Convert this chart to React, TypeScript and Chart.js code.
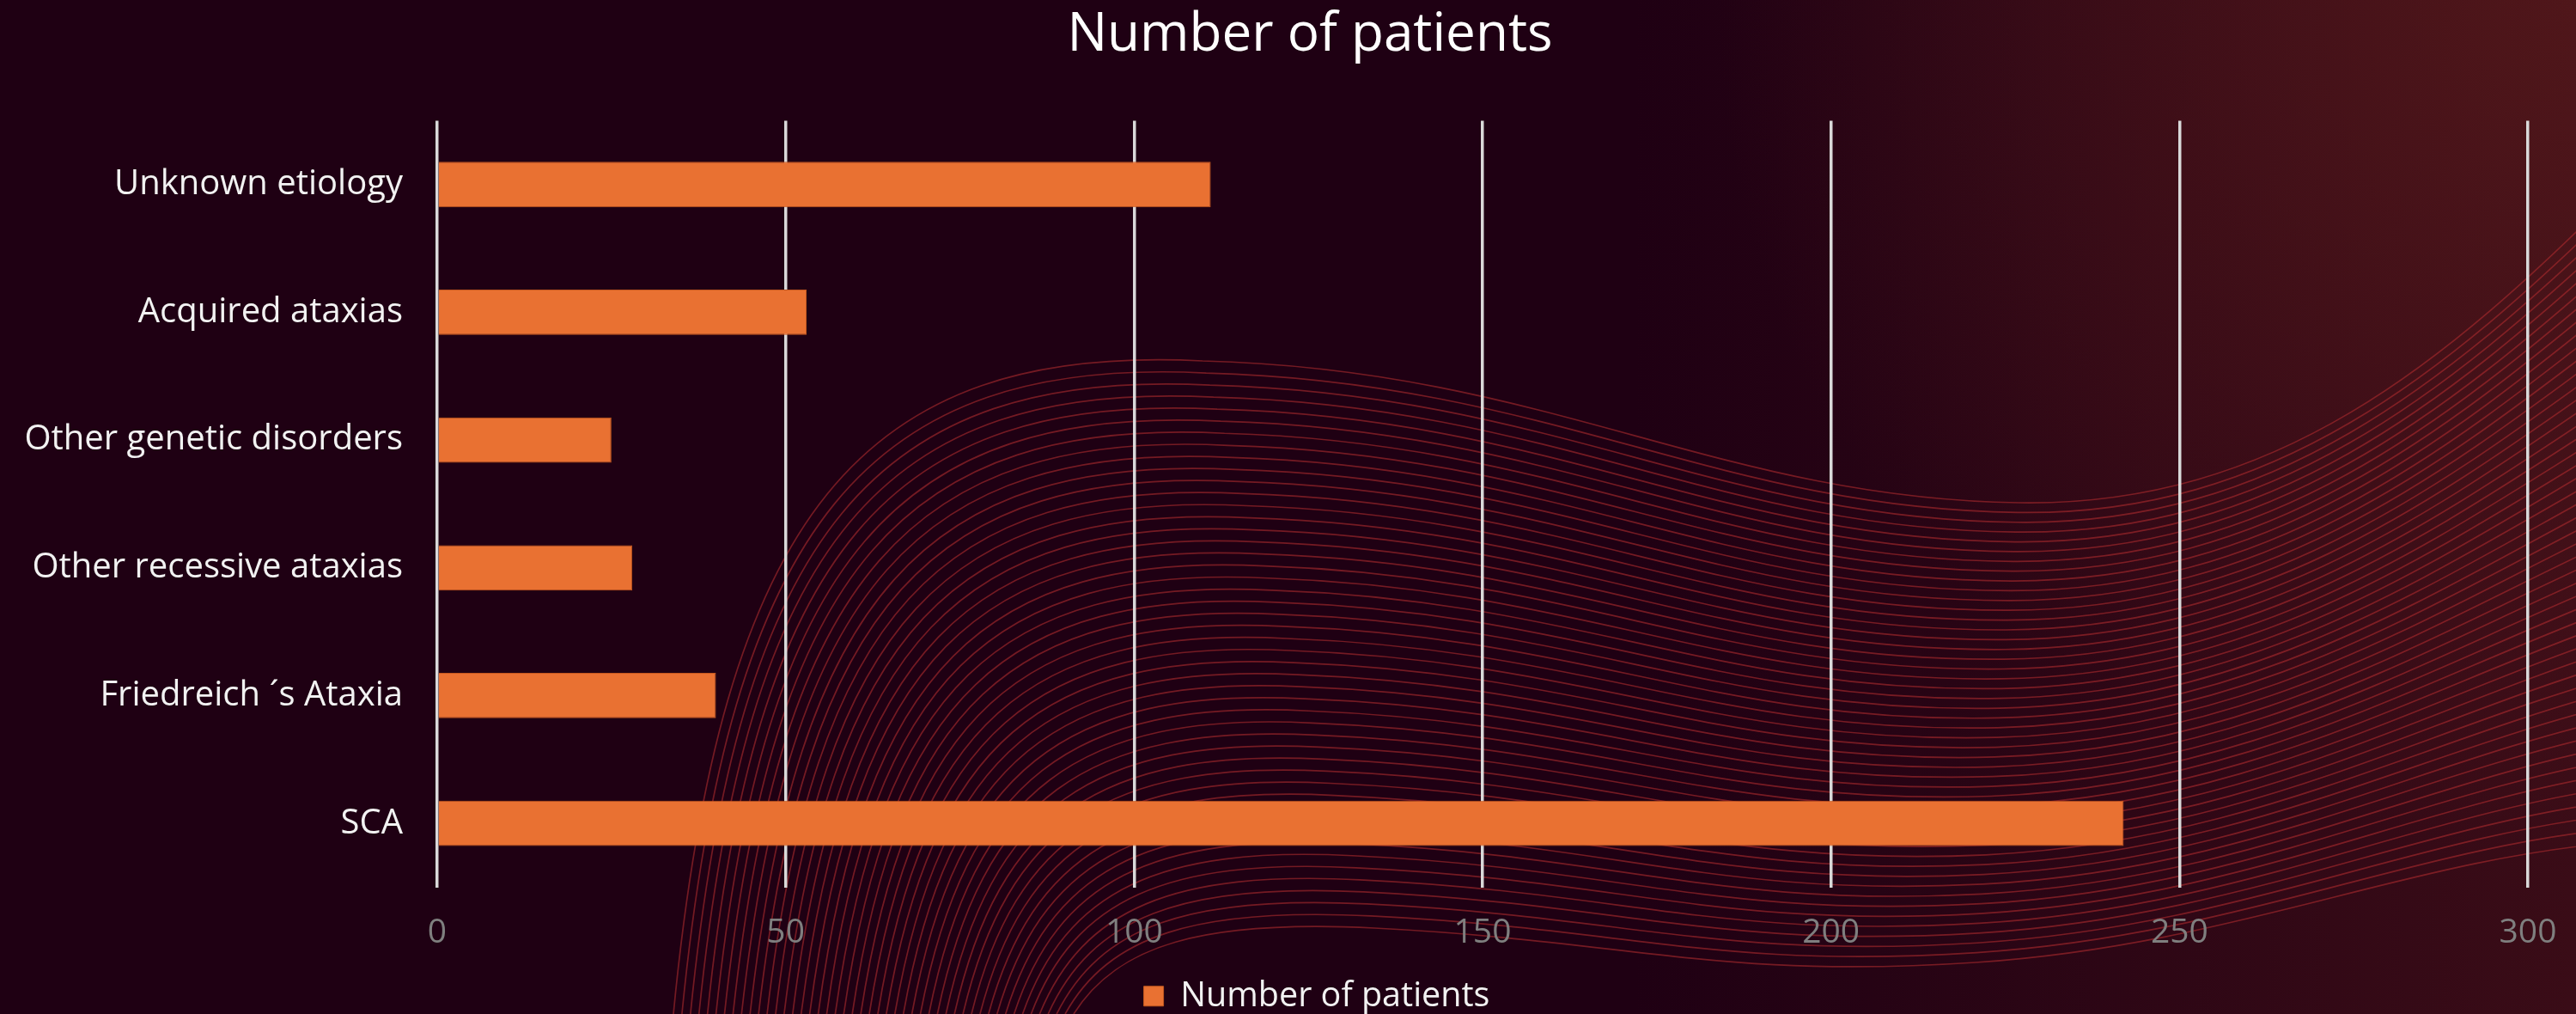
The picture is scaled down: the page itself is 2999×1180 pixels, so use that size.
import React, { useEffect, useRef } from 'react';
import { Chart, registerables } from 'chart.js';

Chart.register(...registerables);

const categories = [
  'Unknown etiology',
  'Acquired ataxias',
  'Other genetic disorders',
  'Other recessive ataxias',
  'Friedreich ´s Ataxia',
  'SCA',
];
const patients = [111, 53, 25, 28, 40, 242];
const seriesName = 'Number of patients';
const chartTitle = 'Number of patients';
const xMin = 0;
const xMax = 300;
const xStep = 50;

const FONT = "'Open Sans', 'Liberation Sans', sans-serif";
const CANVAS_W = 2999;
const CANVAS_H = 1180;

type Pt = [number, number];
// decorative background wave family (outer and inner guide curves)
const outerWave: Pt[] = [
  [784, 1180], [840, 600], [1000, 400], [1400, 420],
  [1800, 430], [2000, 580], [2350, 585],
  [2650, 590], [2850, 420], [3050, 220],
];
const innerWave: Pt[] = [
  [1250, 1180], [1300, 1100], [1400, 1070], [1600, 1080],
  [1900, 1095], [2000, 1140], [2300, 1120],
  [2600, 1100], [2800, 1000], [3050, 980],
];
const waveCount = 48;

const backgroundPlugin = {
  id: 'bgDecor',
  beforeDraw(chart: any) {
    const { ctx, width, height } = chart;
    ctx.save();
    ctx.fillStyle = '#1f0013';
    ctx.fillRect(0, 0, width, height);

    const lg = ctx.createLinearGradient(1900, 0, 3000, 0);
    lg.addColorStop(0, 'rgba(80,22,26,0)');
    lg.addColorStop(1, 'rgba(80,22,26,0.55)');
    ctx.fillStyle = lg;
    ctx.fillRect(0, 0, width, height);

    const rg = ctx.createRadialGradient(3000, 0, 0, 3000, 0, 1000);
    rg.addColorStop(0, 'rgba(85,25,27,0.8)');
    rg.addColorStop(1, 'rgba(85,25,27,0)');
    ctx.fillStyle = rg;
    ctx.fillRect(0, 0, width, height);

    ctx.strokeStyle = 'rgba(170,42,45,0.62)';
    ctx.lineWidth = 1.7;
    for (let i = 0; i < waveCount; i++) {
      const t = i / (waveCount - 1);
      const p = outerWave.map((o, k) => [
        o[0] + (innerWave[k][0] - o[0]) * t,
        o[1] + (innerWave[k][1] - o[1]) * t,
      ]);
      ctx.beginPath();
      ctx.moveTo(p[0][0], p[0][1]);
      for (let s = 1; s + 2 < p.length; s += 3) {
        ctx.bezierCurveTo(p[s][0], p[s][1], p[s + 1][0], p[s + 1][1], p[s + 2][0], p[s + 2][1]);
      }
      ctx.stroke();
    }
    ctx.restore();
  },
};

// centre title and legend like the original (slightly right of canvas centre)
const recentrePlugin = {
  id: 'recentre',
  afterLayout(chart: any) {
    const tb = chart.titleBlock;
    if (tb) {
      tb.left = 47;
      tb.right = 3003;
    }
    const lg = chart.legend;
    if (lg) {
      lg.left = 55;
      lg.right = 3011;
    }
  },
};

export default function App() {
  const canvasRef = useRef<HTMLCanvasElement | null>(null);

  useEffect(() => {
    document.body.style.margin = '0';
    document.body.style.overflow = 'hidden';
    const canvas = canvasRef.current;
    if (!canvas) return;
    const chart = new Chart(canvas, {
      type: 'bar',
      data: {
        labels: categories,
        datasets: [
          {
            label: seriesName,
            data: patients,
            backgroundColor: '#E97132',
            borderColor: '#c4581f',
            borderWidth: 1,
            barPercentage: 0.355,
            categoryPercentage: 1,
          },
        ],
      },
      options: {
        indexAxis: 'y',
        responsive: false,
        animation: false,
        devicePixelRatio: 1,
        layout: { padding: { left: 0, right: 56, top: 0, bottom: -9 } },
        plugins: {
          title: {
            display: true,
            text: chartTitle,
            color: '#ffffff',
            font: { family: FONT, size: 62, weight: 'normal' },
            padding: { top: 4, bottom: 62 },
          },
          legend: {
            display: true,
            position: 'bottom',
            labels: {
              color: '#f2f2f2',
              font: { family: FONT, size: 39.5 },
              boxWidth: 23,
              boxHeight: 23,
              padding: 0,
            },
          },
          tooltip: { enabled: false },
        },
        scales: {
          x: {
            min: xMin,
            max: xMax,
            ticks: {
              stepSize: xStep,
              color: '#7f7f7f',
              font: { family: FONT, size: 39, lineHeight: 1 },
              padding: 34,
            },
            grid: { color: '#d9d9d9', lineWidth: 3.5, drawTicks: false },
            border: { display: false },
            afterFit(scale: any) {
              scale.paddingRight = 0;
              scale.paddingLeft = 0;
            },
          },
          y: {
            ticks: {
              color: '#f2f2f2',
              font: { family: FONT, size: 40 },
              padding: 40,
            },
            grid: { display: false, drawTicks: false },
            border: { display: false },
            afterFit(scale: any) {
              scale.width = 509;
            },
          },
        },
      },
      plugins: [backgroundPlugin, recentrePlugin],
    } as any);
    return () => chart.destroy();
  }, []);

  return (
    <div style={{ width: 2999, height: 1180, overflow: 'hidden' }}>
      <canvas ref={canvasRef} width={CANVAS_W} height={CANVAS_H} style={{ display: 'block' }} />
    </div>
  );
}
